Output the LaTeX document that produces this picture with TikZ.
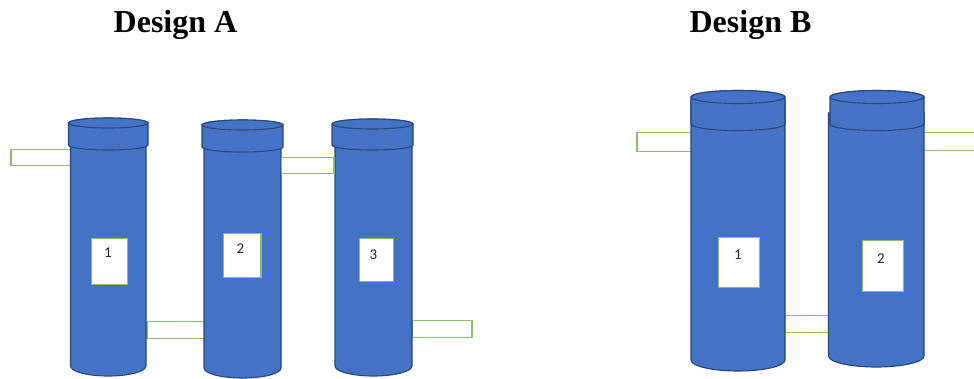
\documentclass[tikz,border=0pt]{standalone}
\usepackage{fontspec}
\setmainfont{Liberation Serif}
\newfontfamily\labelfont{Carlito}
\definecolor{tankblue}{HTML}{4472C4}
\definecolor{tankedge}{HTML}{2F528F}
\definecolor{pipegreen}{HTML}{70AD47}
\tikzset{
    tank/.style={fill=tankblue, draw=tankedge!85!black, line width=1.1pt},
    pipe/.style={fill=white, draw=pipegreen!80!white, line width=1.3pt},
    tag/.style={fill=white, draw=pipegreen!80!white, line width=1.3pt},
    tagnum/.style={font=\labelfont\fontsize{15}{17}\selectfont, text=black!85},
    heading/.style={font=\bfseries\fontsize{32}{36}\selectfont}
}

\begin{document}
\begin{tikzpicture}[x=1pt, y=-1pt]
\useasboundingbox (0, 0) rectangle (974, 378);

% ── Titles ──
\node[heading] (titleA) at (175.5, 25) {Design A};
\node[heading] (titleB) at (750.5, 25) {Design B};

% ── Side pipes, behind the tanks ──
\foreach \x/\y/\xx/\yy in {11/149.5/72/165.5, 147/321.5/206/338.5, 412.5/320.5/472/337.5,
                           637/132.5/693/151.5, 783/315.5/831/332.5, 922/132.5/980/150.5} {
    \draw[pipe] (\x, \y) rectangle (\xx, \yy);
}

% ── Tank bodies ──
\foreach \l/\r/\t/\b/\ry in {70.5/146/140/366/10, 204/281/142/368/10, 335/412/140/366/10,
                             691/785/100/360/11, 828.5/924/113/356/11} {
    \draw[tank] (\l, \t) -- (\l, \b)
        arc[start angle=180, delta angle=-180, x radius={(\r-\l)/2}, y radius=\ry]
        -- (\r, \t) -- cycle;
}

% ── Tank caps ──
\foreach \l/\r/\t/\b/\ry in {68.5/148/123/145/5, 202/283/125/147/5, 332/413/124/145/5,
                             691/785/97/124/6.5, 830/924/97/124/6.5} {
    \draw[tank] (\l, \t) -- (\l, \b)
        arc[start angle=180, delta angle=-180, x radius={(\r-\l)/2}, y radius=\ry]
        -- (\r, \t)
        arc[start angle=0, delta angle=-180, x radius={(\r-\l)/2}, y radius=\ry] -- cycle;
    \draw[tank] (\l, \t)
        arc[start angle=180, delta angle=-360, x radius={(\r-\l)/2}, y radius=\ry] -- cycle;
}

% ── Pipe in front of the tanks ──
\draw[pipe] (281.5, 157.5) rectangle (334, 173.5);

% ── Number tags ──
\foreach \name/\x/\y/\xx/\yy in {tagA1/91.5/238.5/127.5/284.5, tagA2/223.5/233.5/261/277.5, tagA3/359.5/238.5/393.5/281.5,
                                 tagB1/718.5/237.5/759.5/287.5, tagB2/862.5/240.5/903.5/291.5} {
    \draw[tag] (\x, \y) rectangle (\xx, \yy);
}
\node[tagnum] (numA1) at (108, 253) {1};
\node[tagnum] (numA2) at (240.5, 249) {2};
\node[tagnum] (numA3) at (373.5, 255) {3};
\node[tagnum] (numB1) at (738, 255) {1};
\node[tagnum] (numB2) at (881, 259) {2};

\end{tikzpicture}
\end{document}
